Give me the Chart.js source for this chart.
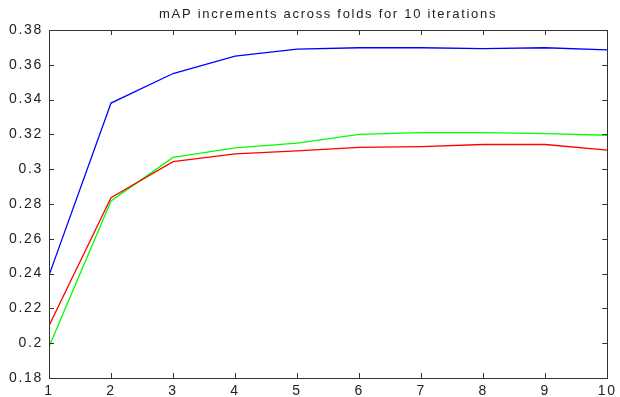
<!DOCTYPE html>
<html>
<head>
<meta charset="utf-8">
<script src="https://cdn.jsdelivr.net/npm/chart.js@4"></script>
<style>
  html, body { margin: 0; padding: 0; background: #fff; }
  #wrap { width: 620px; height: 397px; }
</style>
</head>
<body>
<div id="wrap"><canvas id="c"></canvas></div>
<script>
// Datos del gráfico
const iterations = [1, 2, 3, 4, 5, 6, 7, 8, 9, 10];
const blueSeries  = [0.239, 0.338, 0.355, 0.365, 0.369, 0.3698, 0.3698, 0.3693, 0.3698, 0.3686];
const greenSeries = [0.198, 0.2817, 0.3068, 0.3122, 0.315, 0.320, 0.321, 0.321, 0.3205, 0.3195];
const redSeries   = [0.210, 0.2836, 0.3043, 0.3088, 0.3105, 0.3125, 0.313, 0.3142, 0.3142, 0.311];
const yTicks = [0.18, 0.2, 0.22, 0.24, 0.26, 0.28, 0.3, 0.32, 0.34, 0.36, 0.38];
const titleText = 'mAP increments across folds for 10 iterations';

const FONT = 'Liberation Sans, Arial, sans-serif';

// Marco tipo MATLAB: caja + marcas hacia dentro en los cuatro lados
const boxPlugin = {
    id: 'boxPlugin',
    beforeDraw(chart) {
        chart.ctx.letterSpacing = '1.7px'; // solo para el título
    },
    beforeDatasetsDraw(chart) {
        chart.ctx.letterSpacing = '0.6px';
    },
    afterDatasetsDraw(chart) {
        const { ctx, chartArea: a, scales } = chart;
        ctx.save();
        ctx.strokeStyle = '#333';
        ctx.lineWidth = 1;
        ctx.strokeRect(Math.round(a.left) + 0.5, Math.round(a.top) + 0.5,
                       Math.round(a.right - a.left), Math.round(a.bottom - a.top));
        const len = 5;
        ctx.beginPath();
        iterations.forEach(v => {
            const x = Math.round(scales.x.getPixelForValue(v)) + 0.5;
            ctx.moveTo(x, a.bottom); ctx.lineTo(x, a.bottom - len);
            ctx.moveTo(x, a.top); ctx.lineTo(x, a.top + len);
        });
        yTicks.forEach(v => {
            const y = Math.round(scales.y.getPixelForValue(v)) + 0.5;
            ctx.moveTo(a.left, y); ctx.lineTo(a.left + len, y);
            ctx.moveTo(a.right, y); ctx.lineTo(a.right - len, y);
        });
        ctx.stroke();
        ctx.restore();
    }
};

const mkSet = (data, color) => ({
    data: data,
    borderColor: color,
    backgroundColor: color,
    borderWidth: 1.3,
    pointRadius: 0,
    tension: 0,
    fill: false
});

new Chart(document.getElementById('c'), {
    type: 'line',
    data: {
        labels: iterations,
        datasets: [
            mkSet(blueSeries, '#0000ff'),
            mkSet(redSeries, '#ff0000'),
            mkSet(greenSeries, '#00ff00')
        ]
    },
    options: {
        responsive: true,
        maintainAspectRatio: false,
        animation: false,
        layout: { padding: { left: 0, right: 8, top: 0, bottom: 0 } },
        plugins: {
            legend: { display: false },
            tooltip: { enabled: false },
            title: {
                display: true,
                fullSize: false,
                text: titleText,
                color: '#222',
                font: { family: FONT, size: 13, weight: 'normal' },
                padding: { top: 7, bottom: 7.4 }
            }
        },
        scales: {
            x: {
                type: 'linear',
                z: 1,
                min: 1, max: 10,
                grid: { display: false, drawTicks: false, tickLength: 0 },
                border: { display: false },
                afterFit(s) { s.height = 19; },
                afterBuildTicks(s) { s.ticks = iterations.map(v => ({ value: v })); },
                ticks: {
                    color: '#222',
                    font: { family: FONT, size: 14 },
                    padding: 5,
                    maxRotation: 0,
                    minRotation: 0,
                    autoSkip: false
                }
            },
            y: {
                z: 1,
                min: 0.18, max: 0.38,
                grid: { display: false, drawTicks: false, tickLength: 0 },
                border: { display: false },
                afterFit(s) { s.width = 49; },
                afterBuildTicks(s) { s.ticks = yTicks.map(v => ({ value: v })); },
                ticks: {
                    color: '#222',
                    font: { family: FONT, size: 14 },
                    padding: 6,
                    callback: v => String(+v.toFixed(2))
                }
            }
        }
    },
    plugins: [boxPlugin]
});
</script>
</body>
</html>
